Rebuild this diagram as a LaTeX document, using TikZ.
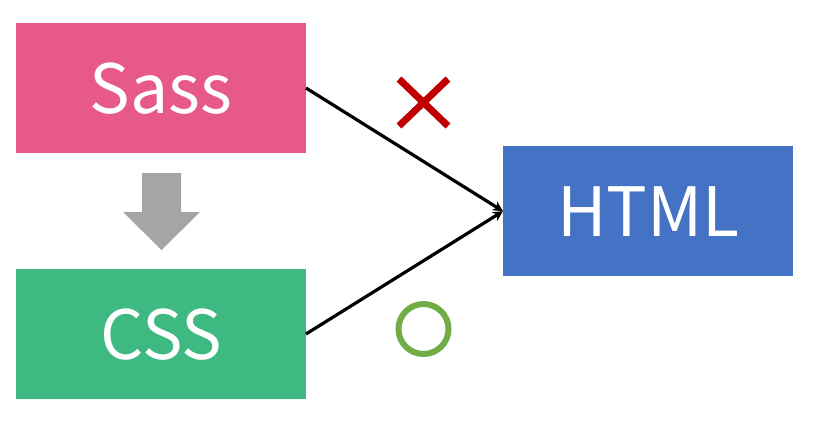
\documentclass[tikz,border=0pt]{standalone}
\usepackage{fontspec}
\setmainfont{Noto Sans CJK JP}
\usetikzlibrary{arrows.meta}
\definecolor{sasspink}{HTML}{E7588B}
\definecolor{cssgreen}{HTML}{3DB981}
\definecolor{htmlblue}{HTML}{4472C4}
\definecolor{xred}{HTML}{C00000}
\definecolor{ogreen}{HTML}{70AD47}
\definecolor{agray}{HTML}{A5A5A5}
\begin{document}
\begin{tikzpicture}[x=1pt,y=-1pt,
  box/.style={draw=none,minimum width=290pt,minimum height=130pt,inner sep=0pt,text=white,font=\fontsize{68}{80}\selectfont},
  conn/.style={line width=3.2pt,-{Stealth[length=10pt,width=10pt]}}]
\useasboundingbox (0,0) rectangle (814,423);
\node[box,fill=sasspink,anchor=north west] (sass) at (16,23) {Sass};
\node[box,fill=cssgreen,anchor=north west] (css) at (16,269) {CSS};
\node[box,fill=htmlblue,anchor=north west] (html) at (503,146) {HTML};
\coordinate (s1) at (306,88);
\coordinate (c1) at (306,334);
\draw[conn] (s1) -- (html.west);
\draw[conn] (c1) -- (html.west);
\fill[agray] (142,173) -- (181,173) -- (181,212) -- (200,212) -- (161.5,250) -- (123,212) -- (142,212) -- cycle;
\draw[xred,line width=7pt] (399,79) -- (448,126) (448,79) -- (399,126);
\draw[ogreen,line width=6pt] (423.5,329) circle (25);
\end{tikzpicture}
\end{document}
